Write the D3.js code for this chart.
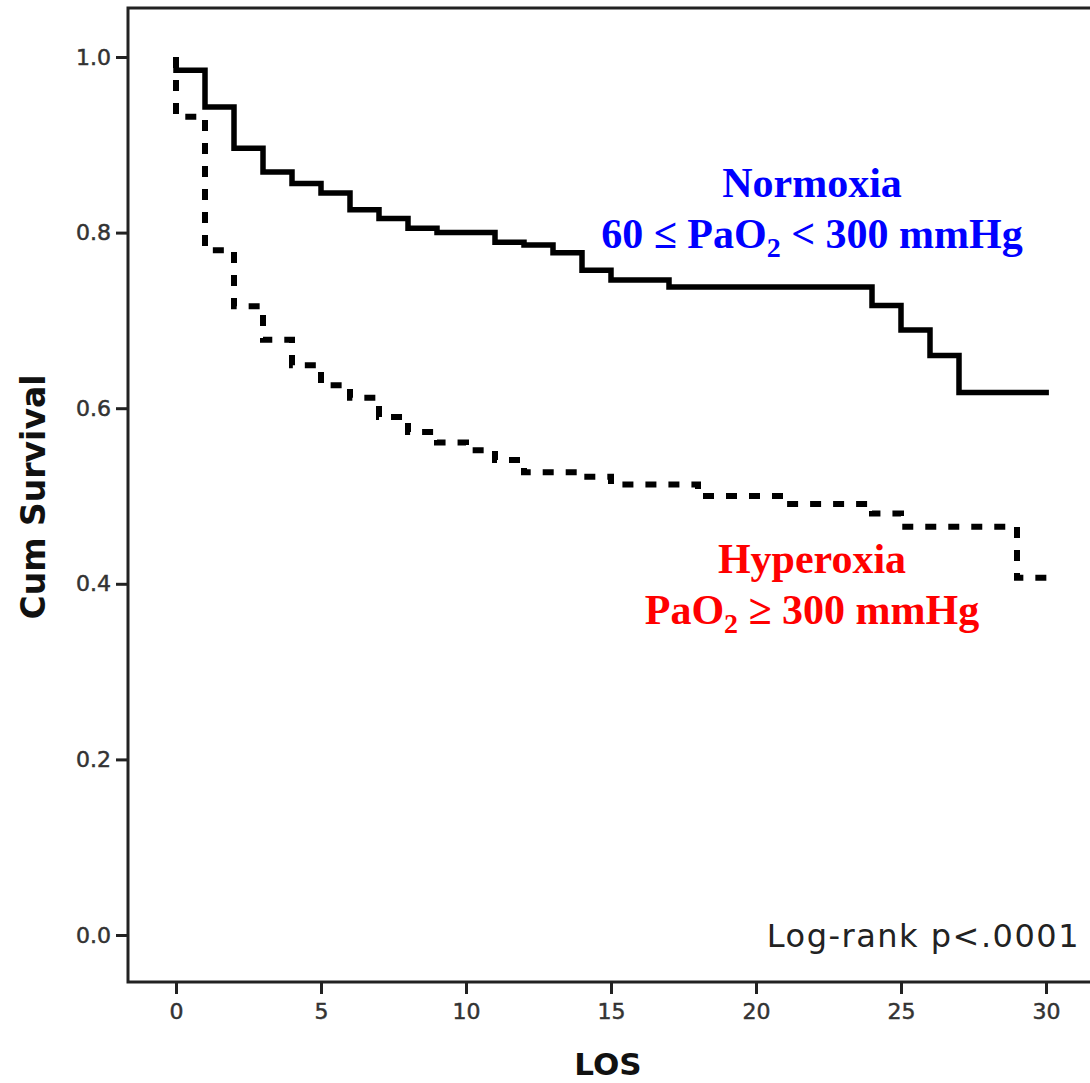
<!DOCTYPE html>
<meta charset="utf-8">
<title>Kaplan-Meier LOS</title>
<style>
  body { margin: 0; background: #fff; }
  .tick text { font-family: "DejaVu Sans", sans-serif; font-size: 22px; fill: #333; stroke: #333; stroke-width: 0.5px; }
  .tick line { stroke: #222; stroke-width: 3; }
</style>
<body>
<script src="https://d3js.org/d3.v7.min.js"></script>
<script>

var width = 1090,
    height = 1083;

// Normoxia (solid) - step times and survival after each step
var normTimes = [0, 0, 1, 2, 3, 4, 5, 6, 7, 8, 9, 11, 12, 13, 14, 15, 17, 24, 25, 26, 27];
var normSurv  = [1.0, 0.985, 0.943, 0.896, 0.869, 0.856, 0.845, 0.826, 0.816, 0.805, 0.800,
                 0.789, 0.786, 0.777, 0.757, 0.746, 0.738, 0.717, 0.689, 0.660, 0.618];

// Hyperoxia (dashed)
var hyperTimes = [0, 0, 1, 2, 3, 4, 5, 6, 7, 8, 9, 10, 11, 12, 14, 15, 18, 21, 24, 25, 29];
var hyperSurv  = [1.0, 0.932, 0.780, 0.716, 0.678, 0.649, 0.626, 0.612, 0.590, 0.573, 0.561,
                  0.552, 0.541, 0.527, 0.522, 0.513, 0.500, 0.491, 0.480, 0.465, 0.407];

var lastTime = 30.1;

var xTicks = [0, 5, 10, 15, 20, 25, 30];
var yTicks = [0.0, 0.2, 0.4, 0.6, 0.8, 1.0];

var svg = d3.select("body").append("svg")
  .attr("width", width)
  .attr("height", height);

var x = d3.scaleLinear().domain([0, 30]).range([176, 1046]);
var y = d3.scaleLinear().domain([0, 1]).range([935, 57]);

var frameLeft = 128, frameTop = 8, frameBottom = 982;

// frame (right side runs off the picture)
svg.append("rect")
  .attr("x", frameLeft)
  .attr("y", frameTop)
  .attr("width", width + 10 - frameLeft)
  .attr("height", frameBottom - frameTop)
  .attr("fill", "none")
  .attr("stroke", "#222")
  .attr("stroke-width", 3);

var yAxis = svg.append("g")
  .attr("transform", "translate(" + frameLeft + ",0)")
  .call(d3.axisLeft(y).tickValues(yTicks).tickFormat(d3.format(".1f")).tickSize(12).tickPadding(5));
yAxis.select(".domain").remove();

var xAxis = svg.append("g")
  .attr("transform", "translate(0," + frameBottom + ")")
  .call(d3.axisBottom(x).tickValues(xTicks).tickSize(12).tickPadding(9));
xAxis.select(".domain").remove();

function steps(times, surv) {
  var pts = times.map(function (t, i) { return [t, surv[i]]; });
  pts.push([lastTime, surv[surv.length - 1]]);
  return pts;
}

var line = d3.line()
  .x(function (d) { return x(d[0]); })
  .y(function (d) { return y(d[1]); })
  .curve(d3.curveStepAfter);

svg.append("path")
  .datum(steps(normTimes, normSurv))
  .attr("d", line)
  .attr("fill", "none")
  .attr("stroke", "#000")
  .attr("stroke-width", 5.5)
  .attr("stroke-linejoin", "miter");

svg.append("path")
  .datum(steps(hyperTimes, hyperSurv))
  .attr("d", line)
  .attr("fill", "none")
  .attr("stroke", "#000")
  .attr("stroke-width", 6)
  .attr("stroke-dasharray", "11,12");

// axis titles
svg.append("text")
  .attr("transform", "translate(45,497) rotate(-90)")
  .attr("text-anchor", "middle")
  .style("font-family", "DejaVu Sans, sans-serif")
  .style("font-weight", "bold")
  .style("font-size", "33px")
  .attr("fill", "#111")
  .text("Cum Survival");

svg.append("text")
  .attr("x", 608)
  .attr("y", 1075)
  .attr("text-anchor", "middle")
  .style("font-family", "DejaVu Sans, sans-serif")
  .style("font-weight", "bold")
  .style("font-size", "31px")
  .attr("fill", "#111")
  .text("LOS");

svg.append("text")
  .attr("x", 1080)
  .attr("y", 947)
  .attr("text-anchor", "end")
  .style("font-family", "DejaVu Sans, sans-serif")
  .style("font-size", "32px")
  .style("letter-spacing", "1.5px")
  .attr("fill", "#222")
  .text("Log-rank p<.0001");

// group labels
function label(color, y0, line1, pre, post) {
  var g = svg.append("g")
    .style("font-family", "Liberation Serif, Times New Roman, serif")
    .style("font-weight", "bold")
    .style("font-size", "42px")
    .attr("fill", color)
    .attr("text-anchor", "middle");
  g.append("text").attr("x", 812).attr("y", y0).text(line1);
  var t = g.append("text").attr("x", 812).attr("y", y0 + 51);
  t.append("tspan").text(pre);
  t.append("tspan").attr("dy", 9).style("font-size", "28px").text("2");
  t.append("tspan").attr("dy", -9).text(post);
}

label("#0000ff", 197, "Normoxia", "60 \u2264 PaO", " < 300 mmHg");
label("#ff0000", 573, "Hyperoxia", "PaO", " \u2265 300 mmHg");

</script>
</body>
</html>
